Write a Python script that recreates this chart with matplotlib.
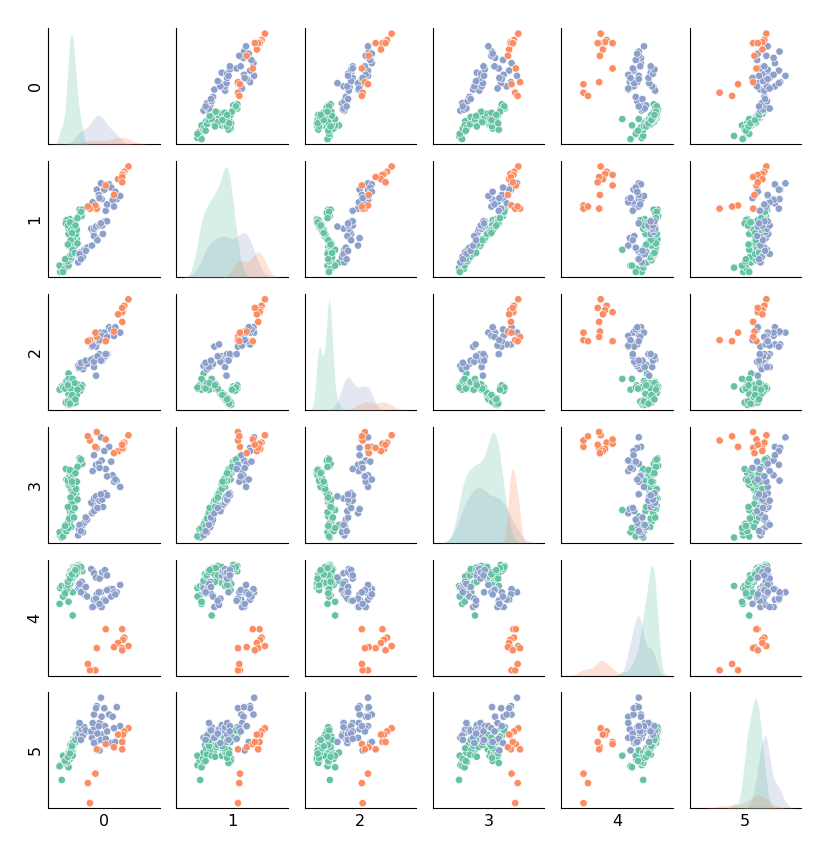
import pandas as pd
import seaborn as sns
import matplotlib.pyplot as plt

var_names = ["0", "1", "2", "3", "4", "5"]
group_names = ["a", "b", "c"]
group_colors = ["#66c2a5", "#fc8d62", "#8da0cb"]

# each row: values of variables 0..5 for one sample
green_rows = [
    [1, 0, 17, 2, 78, 36], [3, 4, 19, 0, 80, 22], [0, 6, 16, 5, 63, 35],
    [7, 3, 20, 8, 71, 41], [5, 0, 18, 1, 70, 45], [10, 8, 24, 6, 81, 42],
    [13, 9, 31, 12, 85, 48], [15, 11, 21, 15, 91, 55], [17, 13, 19, 10, 89, 52],
    [13, 6, 26, 9, 65, 34], [16, 16, 20, 22, 94, 56], [15, 24, 22, 25, 83, 48],
    [17, 24, 17, 33, 92, 55], [20, 27, 19, 30, 98, 61], [19, 19, 17, 20, 74, 50],
    [21, 22, 21, 27, 97, 57], [24, 30, 18, 41, 95, 64], [25, 31, 16, 37, 99, 66],
    [22, 34, 14, 44, 92, 58], [17, 34, 12, 45, 88, 53], [16, 38, 9, 47, 86, 51],
    [13, 36, 12, 50, 83, 45], [13, 41, 6, 52, 80, 48], [17, 42, 5, 55, 84, 52],
    [22, 41, 7, 48, 89, 57], [20, 44, 4, 58, 88, 54], [16, 46, 3, 60, 86, 50],
    [13, 48, 2, 63, 79, 44], [15, 50, 2, 61, 82, 42], [10, 49, 5, 55, 76, 40],
    [9, 46, 4, 65, 80, 38], [28, 53, 19, 68, 100, 70], [32, 53, 17, 72, 97, 67],
    [29, 59, 17, 75, 99, 72], [33, 59, 20, 70, 94, 64], [30, 56, 15, 73, 96, 68],
    [11, 10, 18, 13, 77, 39], [14, 14, 22, 18, 90, 46], [18, 17, 16, 24, 93, 54],
    [21, 20, 23, 19, 96, 60], [23, 25, 19, 35, 91, 62], [18, 28, 20, 32, 87, 53],
    [20, 32, 15, 42, 94, 57], [24, 36, 13, 46, 98, 65], [19, 39, 10, 51, 92, 55],
    [14, 43, 6, 57, 85, 47], [21, 45, 8, 62, 90, 59], [18, 47, 3, 59, 88, 50],
    [12, 44, 5, 54, 81, 43], [26, 27, 21, 36, 97, 63], [8, 12, 17, 11, 73, 40],
    [19, 21, 26, 26, 52, 45], [22, 18, 22, 28, 95, 60], [16, 30, 17, 38, 90, 55],
    [25, 40, 11, 53, 93, 62], [12, 26, 20, 29, 84, 44], [23, 49, 4, 64, 91, 58],
    [31, 57, 18, 74, 98, 69], [17, 40, 9, 56, 90, 52], [20, 43, 6, 60, 93, 58],
    [15, 47, 3, 64, 87, 47], [26, 51, 16, 67, 97, 63], [18, 37, 11, 53, 91, 54],
    [23, 44, 7, 61, 95, 60],
]

blue_rows = [
    [27, 9, 38, 2, 78, 62], [28, 16, 36, 8, 80, 66], [32, 19, 39, 10, 84, 70],
    [34, 14, 35, 5, 76, 64], [36, 21, 38, 14, 72, 72], [40, 23, 40, 17, 70, 68],
    [29, 17, 37, 12, 82, 76], [31, 12, 41, 6, 74, 60], [38, 20, 43, 19, 79, 69],
    [47, 25, 56, 23, 60, 62], [54, 32, 58, 27, 62, 70], [63, 36, 47, 29, 90, 74],
    [49, 38, 45, 31, 94, 70], [46, 41, 44, 33, 96, 68], [50, 41, 37, 37, 92, 72],
    [53, 43, 29, 39, 88, 58], [58, 44, 49, 35, 87, 76], [62, 44, 43, 36, 93, 65],
    [66, 48, 47, 42, 95, 73], [69, 48, 49, 40, 90, 68], [50, 34, 42, 25, 68, 57],
    [55, 30, 47, 28, 66, 66], [60, 46, 43, 41, 74, 60],
    [60, 84, 69, 95, 74, 100], [72, 83, 74, 86, 77, 84], [54, 78, 58, 85, 72, 92],
    [65, 78, 69, 82, 67, 90], [61, 69, 66, 73, 60, 82], [50, 65, 58, 78, 67, 84],
    [53, 60, 56, 69, 68, 90], [83, 69, 70, 54, 74, 91], [77, 68, 69, 59, 77, 82],
    [48, 66, 57, 63, 60, 76], [88, 72, 69, 48, 81, 73], [79, 62, 66, 53, 74, 71],
    [67, 58, 49, 65, 66, 61], [69, 64, 65, 58, 76, 68], [57, 73, 61, 70, 74, 73],
    [75, 80, 72, 72, 70, 57], [81, 76, 74, 55, 72, 58], [58, 70, 62, 66, 63, 50],
]

orange_rows = [
    [100, 100, 100, 97, 23, 71], [94, 95, 94, 90, 31, 68], [92, 93, 90, 84, 29, 65],
    [91, 92, 88, 89, 39, 58], [85, 88, 86, 82, 26, 65], [91, 90, 79, 85, 21, 51],
    [79, 73, 70, 80, 22, 53], [67, 82, 61, 93, 39, 56], [54, 60, 65, 100, 21, 51],
    [52, 63, 69, 86, 0, 28], [44, 60, 62, 92, 0, 0], [41, 62, 61, 96, 6, 19],
    [91, 85, 92, 88, 19, 58],
]

df = pd.DataFrame(green_rows + blue_rows + orange_rows, columns=var_names)
df["group"] = (["a"] * len(green_rows) + ["c"] * len(blue_rows)
               + ["b"] * len(orange_rows))

g = sns.PairGrid(df, vars=var_names, hue="group", hue_order=group_names,
                 palette=dict(zip(group_names, group_colors)), height=1.4,
                 diag_sharey=False)
g.map_diag(sns.kdeplot, fill=True, linewidth=0, alpha=0.25, warn_singular=False)
g.map_offdiag(sns.scatterplot, s=28)

fig = g.figure
fig.set_size_inches(8.3, 8.6)
fig.subplots_adjust(left=0.058, right=0.965, bottom=0.06, top=0.967,
                    wspace=0.152, hspace=0.145)

for ax in g.axes.flat:
    ax.set_xticks([])
    ax.set_yticks([])
    ax.xaxis.label.set_size(11.5)
    ax.yaxis.label.set_size(11.5)

fig.savefig("out.png", dpi=100)
